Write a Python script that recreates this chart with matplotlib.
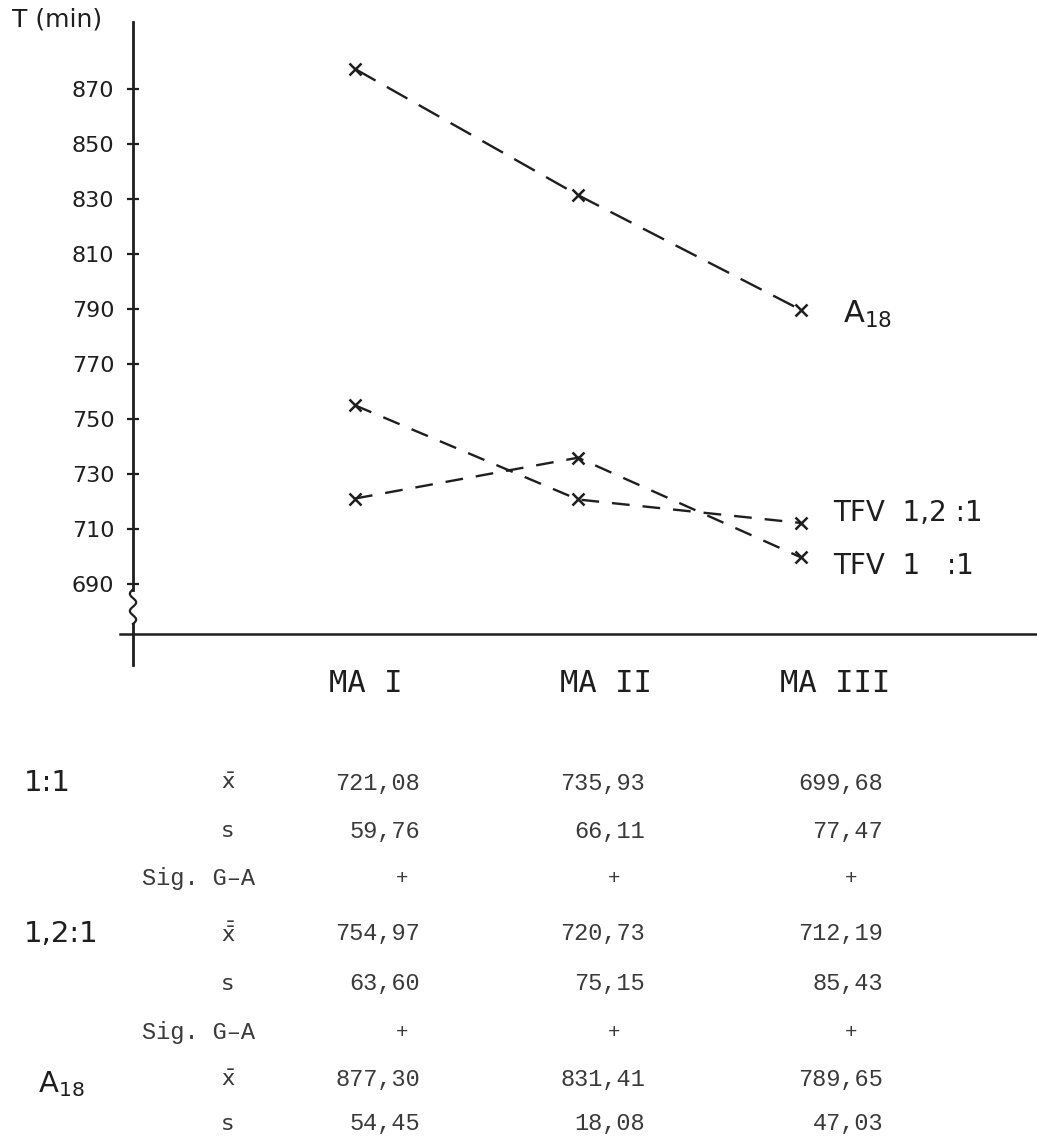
import matplotlib
matplotlib.use("Agg")
import matplotlib.pyplot as plt
import numpy as np

# ---------------- data ----------------
categories = ["MA I", "MA II", "MA III"]
yticks = [690, 710, 730, 750, 770, 790, 810, 830, 850, 870]

tfv11_mean = [721.08, 735.93, 699.68]
tfv11_sd = [59.76, 66.11, 77.47]
tfv11_sig = ["+", "+", "+"]

tfv121_mean = [754.97, 720.73, 712.19]
tfv121_sd = [63.60, 75.15, 85.43]
tfv121_sig = ["+", "+", "+"]

a18_mean = [877.30, 831.41, 789.65]
a18_sd = [54.45, 18.08, 47.03]

series_labels = ["A$_{18}$", "TFV  1,2 :1", "TFV  1   :1"]

# ---------------- layout ----------------
W, H = 1037, 1138
INK = "#1e1e1e"
TYPE = "#3a3a3a"
plt.rcParams["mathtext.fontset"] = "dejavusans"

fig = plt.figure(figsize=(W / 100, H / 100), dpi=100)
fig.patch.set_facecolor("white")


def fx(px):
    return px / W


def fy(py):
    return 1 - py / H


# axes occupying pixel x 100..1037, y 20..670
ax = fig.add_axes([fx(100), fy(670), (1037 - 100) / W, (670 - 20) / H])
ax.set_facecolor("none")
# data <-> pixel: x_px = 355 + 223*x ; y_px = 584 - 2.75*(v-690)
ax.set_xlim((100 - 355) / 223, (1037 - 355) / 223)
ax.set_ylim(690 - (670 - 584) / 2.75, 690 + (584 - 20) / 2.75)

x0 = (133 - 355) / 223          # y-axis position (data x)
y0 = 690 - (634 - 584) / 2.75   # x-axis position (data y)
ytop = 690 + (584 - 22) / 2.75
ybot = 690 - (665 - 584) / 2.75
wave_hi, wave_lo = 688.0, 675.5

for s in ["top", "right"]:
    ax.spines[s].set_visible(False)
ax.spines["left"].set_position(("data", x0))
ax.spines["left"].set_bounds(wave_hi, ytop)
ax.spines["left"].set_linewidth(2.0)
ax.spines["left"].set_color(INK)
ax.spines["bottom"].set_position(("data", y0))
ax.spines["bottom"].set_bounds((120 - 355) / 223, (1037 - 355) / 223)
ax.spines["bottom"].set_linewidth(1.8)
ax.spines["bottom"].set_color(INK)

ax.set_xticks([])
ax.set_yticks(yticks)
ax.set_yticklabels([str(t) for t in yticks])
ax.tick_params(axis="y", direction="inout", length=9, width=1.6, pad=9,
               labelsize=16, colors=INK)

# axis break squiggle and lower stub
yy = np.linspace(wave_lo, wave_hi, 60)
xx = x0 + 0.014 * np.sin((yy - wave_lo) / (wave_hi - wave_lo) * 4 * np.pi)
ax.plot(xx, yy, color=INK, lw=1.6, clip_on=False)
ax.plot([x0, x0], [ybot, wave_lo], color=INK, lw=2.0, clip_on=False)

# ---------------- series ----------------
xs = np.arange(len(categories))
ax.plot(xs, a18_mean, color=INK, lw=1.7, ls=(0, (10, 5.5)),
        marker="x", ms=9, mew=1.8, clip_on=False)
ax.plot(xs, tfv121_mean, color=INK, lw=1.7, ls=(0, (7.5, 5.5)),
        marker="x", ms=9, mew=1.8, clip_on=False)
ax.plot(xs, tfv11_mean, color=INK, lw=1.7, ls=(0, (7.5, 5.5)),
        marker="x", ms=9, mew=1.8, clip_on=False)

ax.annotate(series_labels[0], xy=(xs[-1], a18_mean[-1]), xytext=(30, -9),
            textcoords="offset points", va="baseline", ha="left",
            fontsize=22, color=INK)
ax.annotate(series_labels[1], xy=(xs[-1], tfv121_mean[-1]), xytext=(23, 7),
            textcoords="offset points", va="center", ha="left",
            fontsize=20, color=INK)
ax.annotate(series_labels[2], xy=(xs[-1], tfv11_mean[-1]), xytext=(23, -6.5),
            textcoords="offset points", va="center", ha="left",
            fontsize=20, color=INK)

fig.text(fx(12), fy(20), "T (min)", fontsize=18, color=INK,
         ha="left", va="center")

# category labels
cat_x = [366, 606, 835]
for cx, lab in zip(cat_x, categories):
    fig.text(fx(cx), fy(684), lab, family="DejaVu Sans Mono", fontsize=22,
             ha="center", va="center", color=INK)

# ---------------- table ----------------
val_right = [420, 645, 883]
plus_x = [402, 614, 851]
lab_x = 228
mono = "Liberation Mono"


def fmt(v):
    return f"{v:.2f}".replace(".", ",")


def row_values(py, vals):
    for rx, v in zip(val_right, vals):
        fig.text(fx(rx), fy(py), fmt(v), family=mono, fontsize=17,
                 ha="right", va="center", color=TYPE)


def row_sig(py, sig):
    fig.text(fx(142), fy(py), "Sig. G\u2013A", family=mono, fontsize=17,
             ha="left", va="center", color=TYPE)
    for px, sg in zip(plus_x, sig):
        fig.text(fx(px), fy(py), sg, family=mono, fontsize=15,
                 ha="center", va="center", color=TYPE)


def row_label(py, text):
    fig.text(fx(lab_x), fy(py), text, fontsize=16, ha="center", va="center",
             color=TYPE)


rows = [783, 831, 879, 934, 984, 1032, 1080, 1124]

fig.text(fx(24), fy(rows[0]), "1:1", fontsize=21, ha="left", va="center",
         color=INK)
row_label(rows[0], r"$\bar{\mathrm{x}}$")
row_values(rows[0], tfv11_mean)
row_label(rows[1], "s")
row_values(rows[1], tfv11_sd)
row_sig(rows[2], tfv11_sig)

fig.text(fx(24), fy(rows[3]), "1,2:1", fontsize=21, ha="left", va="center",
         color=INK)
row_label(rows[3], r"$\bar{\bar{\mathrm{x}}}$")
row_values(rows[3], tfv121_mean)
row_label(rows[4], "s")
row_values(rows[4], tfv121_sd)
row_sig(rows[5], tfv121_sig)

fig.text(fx(38), fy((rows[6] + rows[7]) / 2 - 18), "A$_{18}$", fontsize=21,
         ha="left", va="center", color=INK)
row_label(rows[6], r"$\bar{\mathrm{x}}$")
row_values(rows[6], a18_mean)
row_label(rows[7], "s")
row_values(rows[7], a18_sd)

fig.savefig("out.png", dpi=100, facecolor="white")
